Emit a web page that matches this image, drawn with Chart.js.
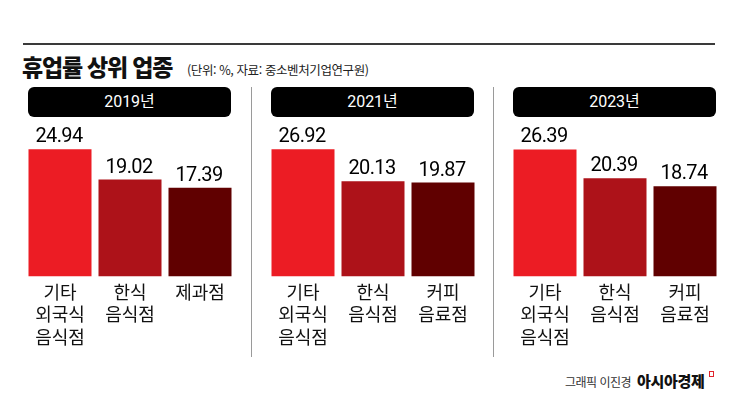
<!DOCTYPE html>
<html lang="ko">
<head>
<meta charset="utf-8">
<script src="https://cdn.jsdelivr.net/npm/chart.js@4.4.1/dist/chart.umd.min.js"></script>
<style>
    html, body { margin: 0; padding: 0; background: #fff; }
    body { width: 745px; height: 398px; position: relative; overflow: hidden;
           font-family: Roboto, "Noto Sans CJK KR", sans-serif; color: #111; }
    .regla { position: absolute; left: 23px; top: 43px; width: 692px; height: 2px; background: #3a3a3a; }
    .titulo { position: absolute; left: 22px; top: 49px; font-family: "Noto Sans CJK KR"; font-weight: 900;
              font-size: 23px; letter-spacing: -1.2px; color: #111; }
    .sub { position: absolute; left: 187px; top: 60px; font-family: "Noto Sans CJK KR"; font-size: 12.5px;
           letter-spacing: -0.4px; color: #222; }
    .cabecera { position: absolute; top: 87px; height: 30px; width: 203px; background: #000; border-radius: 6px;
                color: #fff; font-size: 16px; line-height: 30px; text-align: center; }
    .sep { position: absolute; top: 87px; width: 1px; height: 270px; background: #9a9a9a; }
    .panel { position: absolute; top: 120px; width: 210px; height: 232px; }
    .credito { position: absolute; left: 565px; top: 370px; font-family: "Noto Sans CJK KR"; font-size: 12px;
               color: #333; letter-spacing: -0.5px; }
    .credito b { font-size: 15px; font-weight: 900; color: #111; letter-spacing: -0.3px; margin-left: 3px; }
    .marca { position: absolute; left: 709px; top: 371px; width: 3px; height: 4px; border: 1.5px solid #e0242c; }
</style>
</head>
<body>
<div class="regla"></div>
<div class="titulo">휴업률 상위 업종</div>
<div class="sub">(단위: %, 자료: 중소벤처기업연구원)</div>

<div class="cabecera" style="left:28px">2019년</div>
<div class="cabecera" style="left:271px">2021년</div>
<div class="cabecera" style="left:513px">2023년</div>
<div class="sep" style="left:251px"></div>
<div class="sep" style="left:493px"></div>

<div class="panel" style="left:25px"><canvas id="c2019"></canvas></div>
<div class="panel" style="left:268px"><canvas id="c2021"></canvas></div>
<div class="panel" style="left:510px"><canvas id="c2023"></canvas></div>

<div class="credito">그래픽 이진경 <b>아시아경제</b></div>
<div class="marca"></div>

<script>
// Datos
const anios = ['2019년', '2021년', '2023년'];
const categorias2019 = [['기타', '외국식', '음식점'], ['한식', '음식점'], ['제과점']];
const categorias2021 = [['기타', '외국식', '음식점'], ['한식', '음식점'], ['커피', '음료점']];
const categorias2023 = [['기타', '외국식', '음식점'], ['한식', '음식점'], ['커피', '음료점']];
const valores2019 = [24.94, 19.02, 17.39];
const valores2021 = [26.92, 20.13, 19.87];
const valores2023 = [26.39, 20.39, 18.74];
// cada panel tiene su propia escala
const maximos = [30.7, 33.1, 32.5];

const COLORES = ['#ec1c24', '#ad1219', '#600000'];

// etiquetas de valor encima de las barras
const pluginValores = {
    id: 'valores',
    afterDatasetsDraw(chart) {
        const ctx = chart.ctx;
        const meta = chart.getDatasetMeta(0);
        const datos = chart.data.datasets[0].data;
        ctx.save();
        ctx.font = '20px Roboto, "Noto Sans CJK KR"';
        ctx.fillStyle = '#000';
        ctx.textAlign = 'center';
        ctx.textBaseline = 'alphabetic';
        if ('letterSpacing' in ctx) ctx.letterSpacing = '-0.6px';
        meta.data.forEach(function(barra, i) {
            ctx.fillText(datos[i].toFixed(2), barra.x - 1, barra.y - 7);
        });
        ctx.restore();
    }
};

function initPanel(canvasId, labels, data, max) {
    const ctx = document.getElementById(canvasId);
    if (!ctx) return;

    new Chart(ctx, {
        type: 'bar',
        data: {
            labels: labels,
            datasets: [{
                data: data,
                backgroundColor: COLORES,
                borderWidth: 0,
                barPercentage: 0.9,
                categoryPercentage: 1
            }]
        },
        options: {
            responsive: true,
            maintainAspectRatio: false,
            animation: false,
            layout: { padding: 0 },
            plugins: {
                legend: { display: false },
                tooltip: { enabled: false }
            },
            scales: {
                x: {
                    grid: { display: false, drawTicks: false },
                    border: { display: false },
                    ticks: {
                        color: '#111',
                        padding: 4,
                        maxRotation: 0,
                        autoSkip: false,
                        font: { family: '"Noto Sans CJK KR"', size: 18, lineHeight: 1.25 }
                    }
                },
                y: {
                    display: false,
                    min: 0,
                    max: max
                }
            }
        },
        plugins: [pluginValores]
    });
}

initPanel('c2019', categorias2019, valores2019, maximos[0]);
initPanel('c2021', categorias2021, valores2021, maximos[1]);
initPanel('c2023', categorias2023, valores2023, maximos[2]);
</script>
</body>
</html>
